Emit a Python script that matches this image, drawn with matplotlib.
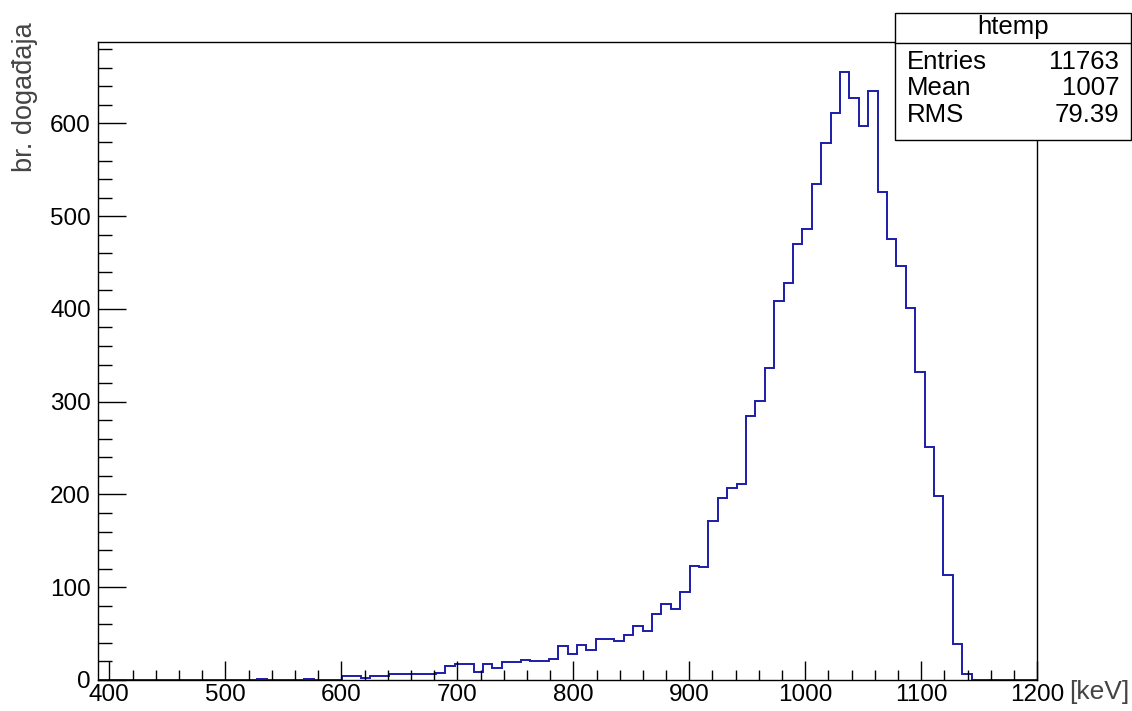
import numpy as np
import matplotlib
matplotlib.use("Agg")
import matplotlib.pyplot as plt
from matplotlib.patches import Rectangle
from matplotlib.lines import Line2D
from matplotlib.ticker import MultipleLocator

plt.rcParams["font.family"] = ["Liberation Sans", "DejaVu Sans"]

#%% data (100 bins, 390-1200 keV)
x_lo = 390.0
x_hi = 1200.0
n_bins = 100
counts = [0, 0, 0, 0, 0, 0, 0, 0, 0, 0,
          0, 0, 0, 0, 0, 0, 0, 1, 0, 0,
          0, 0, 1, 0, 0, 0, 4, 4, 2, 4,
          4, 6, 7, 6, 6, 6, 8, 15, 17, 17,
          9, 17, 13, 19, 19, 22, 21, 21, 23, 37,
          28, 38, 32, 44, 44, 42, 49, 58, 53, 71,
          82, 76, 95, 123, 122, 171, 196, 207, 211, 285,
          301, 336, 409, 428, 470, 486, 535, 579, 611, 655,
          627, 597, 635, 526, 475, 446, 401, 332, 251, 198,
          113, 39, 6, 0, 0, 0, 0, 0, 0, 0]
stat_names = ["Entries", "Mean", "RMS"]
stat_values = ["11763", "1007", "79.39"]
hist_name = "htemp"
ylabel = "br. događaja"
xunit = "[keV]"

edges = np.linspace(x_lo, x_hi, n_bins + 1)

#%% figure
W, H = 1132, 711
fig = plt.figure(figsize=(W / 100, H / 100), dpi=100)

def fx(px):
    return px / W

def fy(py):
    return 1 - py / H

ax = fig.add_axes([fx(97.7), fy(680), fx(1037.3) - fx(97.7), fy(42) - fy(680)])
ax.stairs(counts, edges, color="#1c1ca8", linewidth=1.4)
ax.set_xlim(x_lo, x_hi)
ax.set_ylim(0, 1.05 * max(counts))

ax.xaxis.set_major_locator(MultipleLocator(100))
ax.xaxis.set_minor_locator(MultipleLocator(20))
ax.yaxis.set_major_locator(MultipleLocator(100))
ax.yaxis.set_minor_locator(MultipleLocator(20))
ax.tick_params(axis="x", which="major", direction="in", length=13.7, width=1, labelsize=17.5, pad=3)
ax.tick_params(axis="x", which="minor", direction="in", length=6.9, width=1)
ax.tick_params(axis="y", which="major", direction="in", length=20, width=1, labelsize=17.5, pad=5)
ax.tick_params(axis="y", which="minor", direction="in", length=10, width=1)
for sp in ax.spines.values():
    sp.set_linewidth(1.0)

# axis titles, ROOT style (at the ends of the axes)
fig.text(fx(25), fy(22), ylabel, rotation=90, ha="center", va="top",
         fontsize=19.5, color="#444444")
fig.text(fx(1129), fy(692), xunit, ha="right", va="center",
         fontsize=19, color="#444444")

# stats box
bx0, bx1, by0, by1, bsep = 895, 1131, 12.7, 140, 42.7
fig.add_artist(Rectangle((fx(bx0), fy(by1)), fx(bx1) - fx(bx0), fy(by0) - fy(by1),
                         transform=fig.transFigure, facecolor="white",
                         edgecolor="black", linewidth=1.0, zorder=5))
fig.add_artist(Line2D([fx(bx0), fx(bx1)], [fy(bsep), fy(bsep)],
                      transform=fig.transFigure, color="black", linewidth=1.0, zorder=6))
fig.text(fx((bx0 + bx1) / 2), fy(27), hist_name, ha="center", va="center",
         fontsize=18.5, zorder=7)
row_y = [62, 88, 115]
for name, val, yy in zip(stat_names, stat_values, row_y):
    fig.text(fx(907), fy(yy), name, ha="left", va="center", fontsize=18.5, zorder=7)
    fig.text(fx(1119), fy(yy), val, ha="right", va="center", fontsize=18.5, zorder=7)

fig.savefig("out.png", dpi=100)
